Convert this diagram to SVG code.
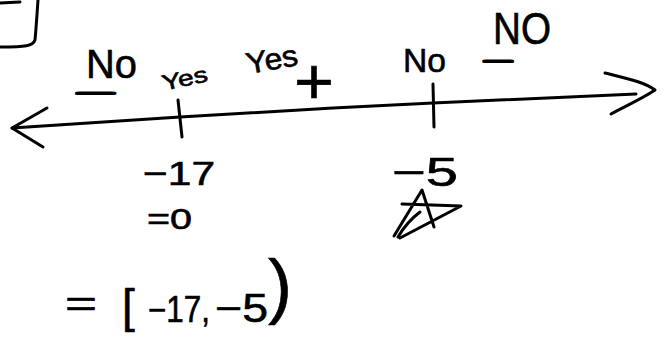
<svg xmlns="http://www.w3.org/2000/svg" width="666" height="339" viewBox="0 0 666 339">
<style>
.ink{fill:none;stroke:#000;stroke-width:3;stroke-linecap:round;stroke-linejoin:round}
.t{font-family:"Liberation Sans",Arial,sans-serif;fill:#000;stroke:#000;stroke-width:0.6}
.sign{font-family:"Liberation Sans",Arial,sans-serif;fill:#000;stroke:#000;stroke-width:2.4;stroke-linejoin:round}
</style>
<rect width="666" height="339" fill="#fff"/>
<g id="box-corner">
<path class="ink" d="M0 3 L20 2 M38 0 C37 15 36 30 35 40 C33 46 26 47 0 47"/>
</g>
<g id="connectors">
<path class="ink" d="M12 128 L180 117 L333 108 L433 103 L636 94"/>
<path class="ink" d="M47 108 L12 128 L43 147"/>
<path class="ink" d="M605 73 C625 78 645 82 655 90 C640 100 625 106 611 114"/>
<path class="ink" d="M178 100 L182 137"/>
<path class="ink" d="M433 84 L434 127"/>
</g>
<g id="region1">
<text class="t" x="86" y="78" font-size="40" textLength="51" lengthAdjust="spacingAndGlyphs">No</text>
<text class="sign" x="76" y="99" font-size="18" textLength="39" lengthAdjust="spacingAndGlyphs">−</text>
</g>
<g id="point-17">
<text class="t" x="162" y="86" font-size="22" transform="rotate(-12 185 80)" textLength="46" lengthAdjust="spacingAndGlyphs">Yes</text>
<text class="t" x="143" y="185" font-size="34" textLength="72" lengthAdjust="spacingAndGlyphs" stroke-width="0">−17</text>
<text class="t" x="147" y="229" font-size="30" textLength="45" lengthAdjust="spacingAndGlyphs" stroke-width="0">=0</text>
</g>
<g id="region2">
<text class="t" x="246" y="70" font-size="30" transform="rotate(-10 270 60)" textLength="52" lengthAdjust="spacingAndGlyphs">Yes</text>
<text class="t" x="294" y="104" font-size="64" textLength="40" lengthAdjust="spacingAndGlyphs" stroke-width="0">+</text>
</g>
<g id="point-5">
<text class="t" x="403" y="72" font-size="34" textLength="43" lengthAdjust="spacingAndGlyphs">No</text>
<text class="t" x="392" y="186" font-size="40" textLength="66" lengthAdjust="spacingAndGlyphs" stroke-width="0">−5</text>
<path class="ink" d="M394 236 L422 190 L434 227 M402 204 L461 206 L400 238 M398 237 C405 225 412 218 420 212"/>
</g>
<g id="region3">
<text class="t" x="493" y="44" font-size="44" textLength="58" lengthAdjust="spacingAndGlyphs">NO</text>
<text class="sign" x="483" y="67" font-size="18" textLength="30" lengthAdjust="spacingAndGlyphs">−</text>
</g>
<g id="answer">
<text class="t" x="65" y="316" font-size="36" textLength="32" lengthAdjust="spacingAndGlyphs">=</text>
<text class="t" x="122" y="322" font-size="46">[</text>
<text class="t" x="148" y="322" font-size="36" textLength="62" lengthAdjust="spacingAndGlyphs">−17,</text>
<text class="t" x="215" y="322" font-size="40" textLength="53" lengthAdjust="spacingAndGlyphs" stroke-width="0">−5</text>
<text class="t" x="268" y="310" font-size="72">)</text>
</g>
</svg>
